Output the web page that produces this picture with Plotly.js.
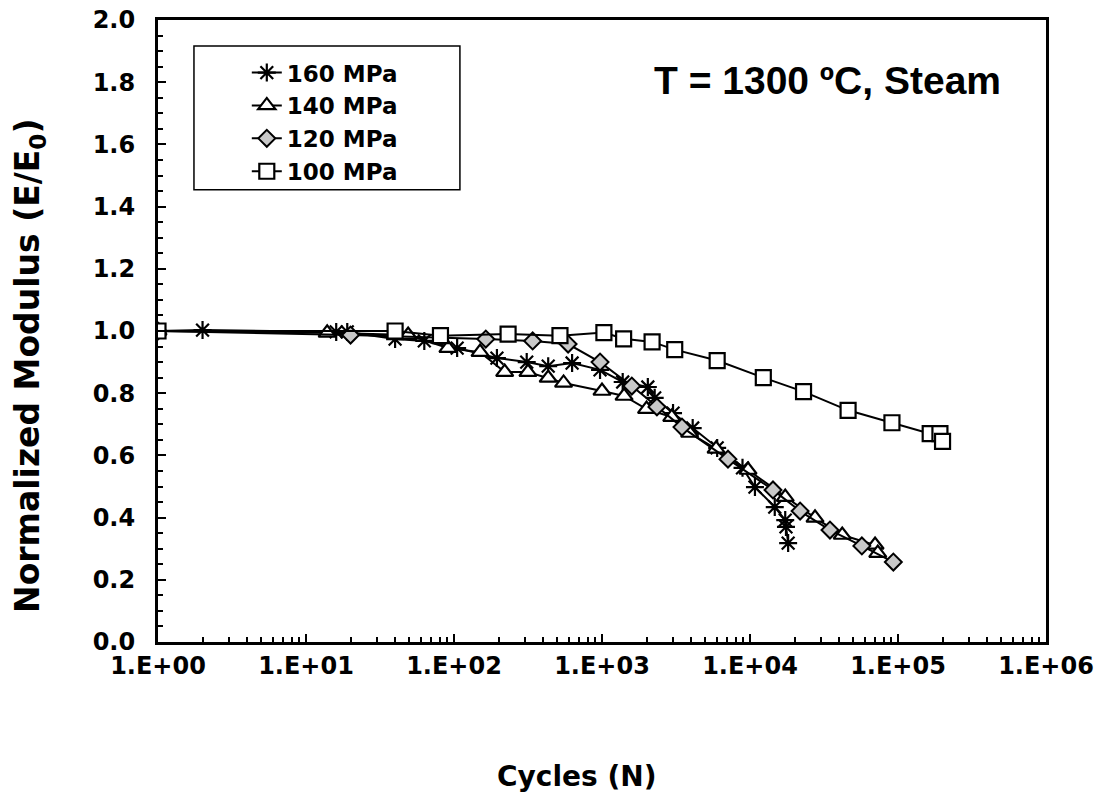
<!DOCTYPE html>
<html>
<head>
<meta charset="utf-8">
<script src="https://cdn.plot.ly/plotly-3.0.1.min.js"></script>
<style>html,body{margin:0;padding:0;background:#fff;}#chart{width:1102px;height:794px;}</style>
</head>
<body>
<div id="chart"></div>
<script>
// ---- data ----
const seriesNames = ["160 MPa", "140 MPa", "120 MPa", "100 MPa"];

const cycles160 = [1, 2, 16, 19, 40, 63, 105, 195, 310, 433, 628, 970, 1380, 2040, 2270, 3020, 4100, 6000, 8900, 10800, 14700, 17300, 17500, 18100];
const mod160    = [1.0, 1.003, 0.997, 0.997, 0.974, 0.968, 0.945, 0.913, 0.90, 0.887, 0.897, 0.875, 0.836, 0.82, 0.785, 0.736, 0.688, 0.624, 0.56, 0.498, 0.434, 0.392, 0.37, 0.318];

const cycles140 = [1, 13.9, 49, 91, 150, 220, 316, 433, 550, 1000, 1410, 2000, 2960, 3910, 5900, 9700, 17300, 27500, 42000, 70000, 73000];
const mod140    = [1.0, 0.994, 0.987, 0.945, 0.932, 0.868, 0.868, 0.849, 0.833, 0.807, 0.791, 0.749, 0.723, 0.672, 0.621, 0.553, 0.466, 0.399, 0.344, 0.312, 0.286];

const cycles120 = [1, 20, 164, 340, 590, 970, 1590, 2350, 3470, 7100, 14300, 21800, 34700, 57000, 93000];
const mod120    = [1.0, 0.987, 0.974, 0.968, 0.958, 0.90, 0.823, 0.756, 0.691, 0.588, 0.489, 0.421, 0.36, 0.309, 0.257];

const cycles100 = [1, 40, 81, 232, 520, 1030, 1400, 2180, 3100, 6000, 12300, 23000, 46000, 91000, 165000, 192000, 200000];
const mod100    = [1.0, 1.0, 0.985, 0.99, 0.985, 0.995, 0.975, 0.965, 0.94, 0.905, 0.85, 0.805, 0.745, 0.705, 0.67, 0.67, 0.645];

const xTickVals = [1, 10, 100, 1000, 10000, 100000, 1000000];
const xTickText = ["1.E+00", "1.E+01", "1.E+02", "1.E+03", "1.E+04", "1.E+05", "1.E+06"];

const xTitle = "Cycles (N)";
const yTitle = "Normalized Modulus (E/E<sub>0</sub>)";
const condition = "T = 1300 ºC, Steam";

// ---- styling ----
const FONT = "Liberation Sans, Arial, sans-serif";
const WIDE = "DejaVu Sans, Liberation Sans, sans-serif";
const lineStyle = {color: "#000", width: 2};

function minorLogTicks() {
  const v = [];
  for (let d = 0; d < 6; d++) for (let k = 2; k <= 9; k++) v.push(k * Math.pow(10, d));
  return v;
}

const traces = [
  {x: cycles160, y: mod160, name: seriesNames[0], mode: "lines+markers", line: lineStyle,
   marker: {symbol: "asterisk-open", size: 15, color: "#000", line: {color: "#000", width: 2.2}}},
  {x: cycles140, y: mod140, name: seriesNames[1], mode: "lines+markers", line: lineStyle,
   marker: {symbol: "triangle-up", size: 15, color: "#fff", line: {color: "#000", width: 2.2}}},
  {x: cycles120, y: mod120, name: seriesNames[2], mode: "lines+markers", line: lineStyle,
   marker: {symbol: "diamond", size: 13, color: "#c8c8c8", line: {color: "#000", width: 2}}},
  {x: cycles100, y: mod100, name: seriesNames[3], mode: "lines+markers", line: lineStyle,
   marker: {symbol: "square", size: 15, color: "#fff", line: {color: "#000", width: 2.2}}}
];

const layout = {
  width: 1102, height: 794,
  paper_bgcolor: "#fff", plot_bgcolor: "#fff",
  margin: {l: 158, r: 56, t: 20, b: 152, pad: 0},
  font: {family: FONT, color: "#000"},
  showlegend: true,
  legend: {
    x: 0.100, y: 0.950, xanchor: "left", yanchor: "top",
    bgcolor: "rgba(0,0,0,0)", borderwidth: 0,
    font: {family: WIDE, size: 23, weight: "bold", color: "#000"},
    tracegroupgap: 0
  },
  xaxis: {
    type: "log", range: [0, 6], autorange: false,
    tickmode: "array", tickvals: xTickVals, ticktext: xTickText,
    ticks: "inside", ticklen: 8, tickwidth: 2, tickcolor: "#000",
    minor: {tickmode: "array", tickvals: minorLogTicks(), ticks: "inside", ticklen: 5, tickwidth: 2, tickcolor: "#000", showgrid: false},
    showline: true, linecolor: "#000", linewidth: 3, mirror: true,
    showgrid: false, zeroline: false,
    tickfont: {family: WIDE, size: 24, weight: "bold"},
    automargin: false
  },
  yaxis: {
    range: [0, 2], autorange: false, dtick: 0.2, tick0: 0, tickformat: ".1f",
    ticks: "inside", ticklen: 8, tickwidth: 2, tickcolor: "#000",
    minor: {dtick: 0.05, ticks: "inside", ticklen: 5, tickwidth: 2, tickcolor: "#000", showgrid: false},
    showline: true, linecolor: "#000", linewidth: 3, mirror: true,
    showgrid: false, zeroline: false,
    ticklabelstandoff: 15,
    tickfont: {family: WIDE, size: 24, weight: "bold"},
    automargin: false
  },
  shapes: [
    {type: "rect", xref: "paper", yref: "paper", x0: 0.0405, x1: 0.340, y0: 0.727, y1: 0.958,
     line: {color: "#000", width: 1.5}, fillcolor: "rgba(0,0,0,0)"}
  ],
  annotations: [
    {xref: "paper", yref: "paper", x: 0.952, y: 0.902, xanchor: "right", yanchor: "middle",
     text: condition, showarrow: false,
     font: {family: FONT, size: 39, weight: "bold", color: "#000"}},
    {xref: "paper", yref: "paper", x: 0.471, y: -0.217, xanchor: "center", yanchor: "middle",
     text: xTitle, showarrow: false,
     font: {family: WIDE, size: 28, weight: "bold", color: "#000"}},
    {xref: "paper", yref: "paper", x: -0.144, y: 0.444, xanchor: "center", yanchor: "middle",
     text: yTitle, textangle: -90, showarrow: false,
     font: {family: WIDE, size: 33, weight: "bold", color: "#000"}}
  ]
};

Plotly.newPlot("chart", traces, layout, {displayModeBar: false, staticPlot: true});
</script>
</body>
</html>
